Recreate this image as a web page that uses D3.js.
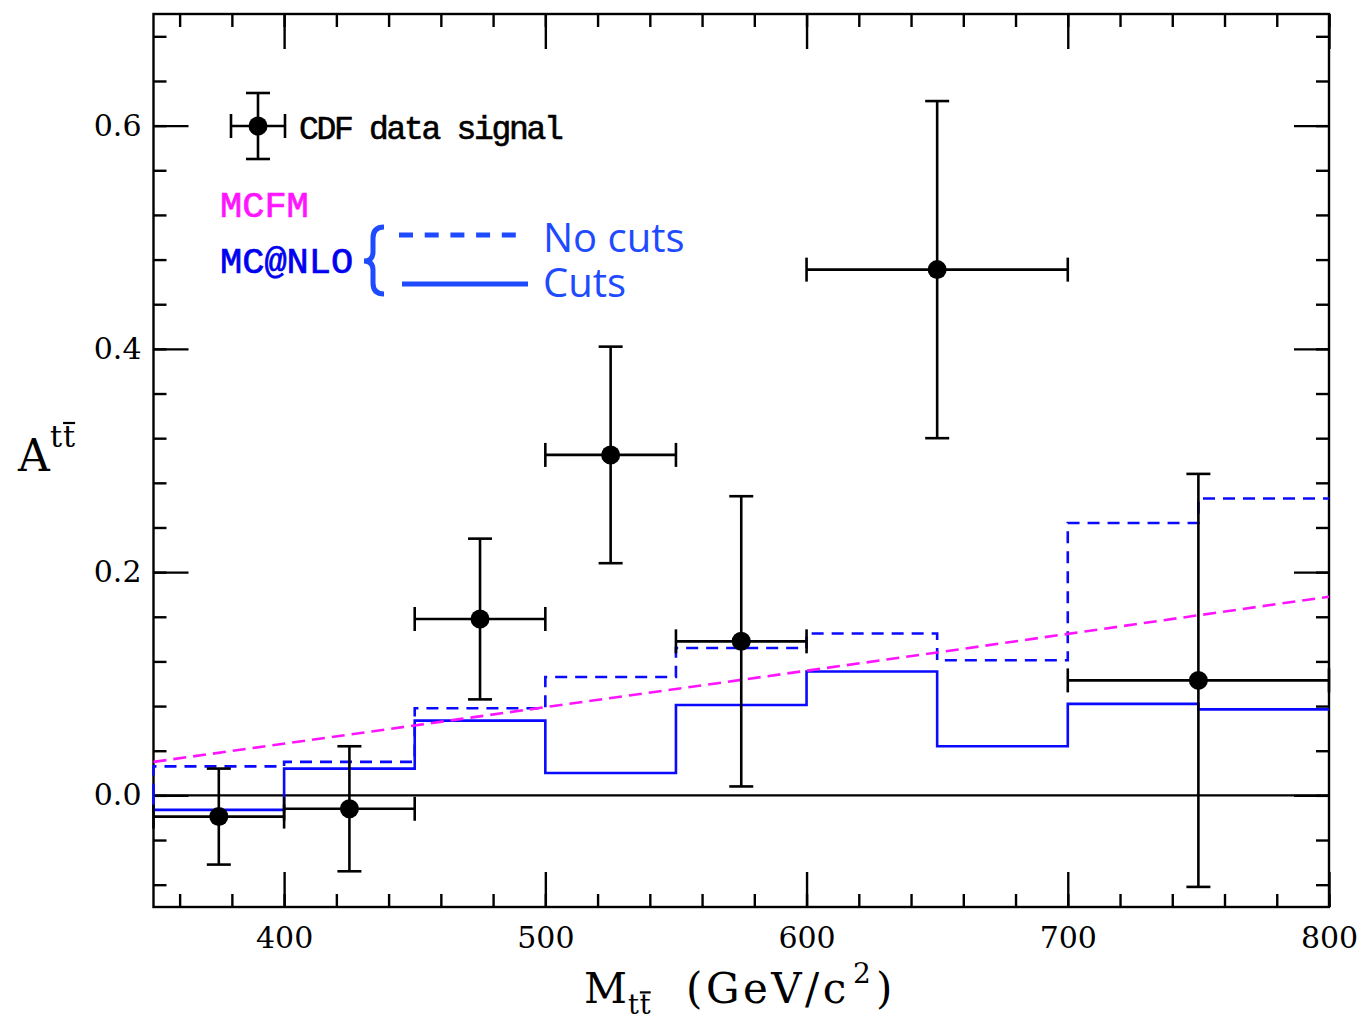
<!DOCTYPE html>
<html><head><meta charset="utf-8">
<script src="https://cdn.jsdelivr.net/npm/d3@7"></script>
<style>body{margin:0;background:#fff}</style>
</head><body>
<svg id="chart" width="1362" height="1016"></svg>
<script>
// MC@NLO histogram bin edges in M_tt (GeV/c^2) and the asymmetry per bin
const binEdges = [350, 400, 450, 500, 550, 600, 650, 700, 750, 800];
const mcnloNoCuts = [0.026, 0.030, 0.078, 0.106, 0.132, 0.145, 0.121, 0.244, 0.266];
const mcnloCuts = [-0.013, 0.024, 0.067, 0.020, 0.081, 0.111, 0.044, 0.082, 0.077];

// MCFM prediction
const mcfmMass = [350, 500, 650, 800];
const mcfmAsym = [0.030, 0.079, 0.128, 0.178];

// CDF measurement: bin limits, centres, values and errors
const cdfLow = [350, 400, 450, 500, 550, 600, 700];
const cdfHigh = [400, 450, 500, 550, 600, 700, 800];
const cdfMass = [375, 425, 475, 525, 575, 650, 750];
const cdfAsym = [-0.019, -0.012, 0.158, 0.305, 0.138, 0.471, 0.103];
const cdfErr = [0.043, 0.056, 0.072, 0.097, 0.130, 0.151, 0.185];

// axis ticks
const xMajorTicks = [400, 500, 600, 700, 800];
const xTickLabels = ["400", "500", "600", "700", "800"];
const yMajorTicks = [0.0, 0.2, 0.4, 0.6];
const yTickLabels = ["0.0", "0.2", "0.4", "0.6"];

const svg = d3.select("#chart");
const L = 153.5, R = 1329, T = 14, B = 907;
const x = d3.scaleLinear().domain([350, 800]).range([L, R]);
const y = d3.scaleLinear().domain([-0.1, 0.7]).range([B, T]);

const xMinorTicks = x.ticks(22);
const yMinorTicks = d3.range(-2, 18).map(i => +(i * 0.04).toFixed(2));

const BLUE = "#0a0aff", LEG_BLUE = "#1f4bff", MAG = "#ff14ff";
const serif = "'DejaVu Serif', serif";
const mono = "'Liberation Mono', monospace";

function styleAxis(g) {
  g.select(".domain").remove();
  g.selectAll(".tick line").attr("stroke", "#000").attr("stroke-width", 2.4);
  g.selectAll(".tick text").attr("fill", "#000")
    .style("font-family", serif).style("font-size", "30px");
}

// major / minor ticks on all four sides, pointing inward
svg.append("g").attr("transform", `translate(0,${B})`)
  .call(d3.axisBottom(x).tickValues(xMajorTicks).tickSize(-35).tickPadding(20)
    .tickFormat((d, i) => xTickLabels[i])).call(styleAxis);
svg.append("g").attr("transform", `translate(0,${B})`)
  .call(d3.axisBottom(x).tickValues(xMinorTicks).tickSize(-13).tickFormat("")).call(styleAxis);
svg.append("g").attr("transform", `translate(0,${T})`)
  .call(d3.axisTop(x).tickValues(xMajorTicks).tickSize(-35).tickFormat("")).call(styleAxis);
svg.append("g").attr("transform", `translate(0,${T})`)
  .call(d3.axisTop(x).tickValues(xMinorTicks).tickSize(-13).tickFormat("")).call(styleAxis);
svg.append("g").attr("transform", `translate(${L},0)`)
  .call(d3.axisLeft(y).tickValues(yMajorTicks).tickSize(-35).tickPadding(12)
    .tickFormat((d, i) => yTickLabels[i])).call(styleAxis);
svg.append("g").attr("transform", `translate(${L},0)`)
  .call(d3.axisLeft(y).tickValues(yMinorTicks).tickSize(-13).tickFormat("")).call(styleAxis);
svg.append("g").attr("transform", `translate(${R},0)`)
  .call(d3.axisRight(y).tickValues(yMajorTicks).tickSize(-35).tickFormat("")).call(styleAxis);
svg.append("g").attr("transform", `translate(${R},0)`)
  .call(d3.axisRight(y).tickValues(yMinorTicks).tickSize(-13).tickFormat("")).call(styleAxis);

// frame
svg.append("rect").attr("x", L).attr("y", T).attr("width", R - L).attr("height", B - T)
  .attr("fill", "none").attr("stroke", "#000").attr("stroke-width", 2.4);

// zero line
svg.append("line").attr("x1", L).attr("x2", R).attr("y1", y(0)).attr("y2", y(0))
  .attr("stroke", "#000").attr("stroke-width", 2.2);

// step histograms
function steps(vals) {
  const pts = [[binEdges[0], 0]];
  vals.forEach((v, i) => { pts.push([binEdges[i], v]); pts.push([binEdges[i + 1], v]); });
  return pts;
}
const line = d3.line().x(d => x(d[0])).y(d => y(d[1]));
svg.append("path").attr("d", line(steps(mcnloNoCuts))).attr("fill", "none")
  .attr("stroke", BLUE).attr("stroke-width", 2.6).attr("stroke-dasharray", "12,8");
svg.append("path").attr("d", line(steps(mcnloCuts))).attr("fill", "none")
  .attr("stroke", BLUE).attr("stroke-width", 2.6);

// MCFM
svg.append("path").attr("d", line(mcfmMass.map((m, i) => [m, mcfmAsym[i]]))).attr("fill", "none")
  .attr("stroke", MAG).attr("stroke-width", 2.6).attr("stroke-dasharray", "13,7");

// CDF points with error bars
function errPoint(g, cx, cy, yLo, yHi, xLo, xHi) {
  const ln = (x1, y1, x2, y2) => g.append("line")
    .attr("x1", x1).attr("y1", y1).attr("x2", x2).attr("y2", y2)
    .attr("stroke", "#000").attr("stroke-width", 2.6);
  ln(cx, yLo, cx, yHi);
  ln(cx - 12, yLo, cx + 12, yLo);
  ln(cx - 12, yHi, cx + 12, yHi);
  ln(xLo, cy, xHi, cy);
  ln(xLo, cy - 12, xLo, cy + 12);
  ln(xHi, cy - 12, xHi, cy + 12);
  g.append("circle").attr("cx", cx).attr("cy", cy).attr("r", 9.5).attr("fill", "#000");
}
const pts = svg.append("g");
cdfMass.forEach((m, i) => {
  errPoint(pts, x(m), y(cdfAsym[i]), y(cdfAsym[i] - cdfErr[i]), y(cdfAsym[i] + cdfErr[i]),
    x(cdfLow[i]), x(cdfHigh[i]));
});

// legend
const leg = svg.append("g");
errPoint(leg, 258, 126, 159, 93, 231, 285);
leg.append("text").attr("x", 299).attr("y", 139).text("CDF data signal")
  .style("font-family", mono).style("font-size", "33px").style("letter-spacing", "-2.3px")
  .attr("fill", "#000").attr("stroke", "#000").attr("stroke-width", 0.6);
leg.append("text").attr("x", 220).attr("y", 217).text("MCFM")
  .style("font-family", mono).style("font-size", "37px")
  .attr("fill", MAG).attr("stroke", MAG).attr("stroke-width", 0.7);
leg.append("text").attr("x", 220).attr("y", 273).text("MC@NLO")
  .style("font-family", mono).style("font-size", "37px")
  .attr("fill", "#0000f0").attr("stroke", "#0000f0").attr("stroke-width", 0.7);
leg.append("path")
  .attr("d", "M384,227 Q373,227 373,238 L373,252 Q373,261 364,261 Q373,261 373,270 L373,283 Q373,294 384,294")
  .attr("fill", "none").attr("stroke", LEG_BLUE).attr("stroke-width", 5);
leg.append("line").attr("x1", 399).attr("x2", 517).attr("y1", 235).attr("y2", 235)
  .attr("stroke", LEG_BLUE).attr("stroke-width", 5).attr("stroke-dasharray", "14,11.7");
leg.append("line").attr("x1", 402).attr("x2", 528).attr("y1", 284).attr("y2", 284)
  .attr("stroke", LEG_BLUE).attr("stroke-width", 5);
leg.append("text").attr("x", 543).attr("y", 252).text("No cuts")
  .style("font-family", "'Open Sans', sans-serif").style("font-size", "40px").attr("fill", LEG_BLUE);
leg.append("text").attr("x", 543).attr("y", 297).text("Cuts")
  .style("font-family", "'Open Sans', sans-serif").style("font-size", "40px").attr("fill", LEG_BLUE);

// axis titles
function ttbar(g, x0, base, size) {
  const t1 = g.append("text").attr("x", x0).attr("y", base).text("t")
    .style("font-family", serif).style("font-size", size + "px");
  const w = t1.node().getComputedTextLength();
  const t2 = g.append("text").attr("x", x0 + w + 1).attr("y", base).text("t")
    .style("font-family", serif).style("font-size", size + "px");
  const w2 = t2.node().getComputedTextLength();
  g.append("line").attr("x1", x0 + w + 1).attr("x2", x0 + w + 1 + w2)
    .attr("y1", base - size * 0.8).attr("y2", base - size * 0.8)
    .attr("stroke", "#000").attr("stroke-width", 2.2);
}
const ty = svg.append("g");
ty.append("text").attr("x", 18).attr("y", 471).text("A")
  .style("font-family", serif).style("font-size", "44px");
ttbar(ty, 50, 447, 30);

const tx = svg.append("g");
tx.append("text").attr("x", 584).attr("y", 1003).text("M")
  .style("font-family", serif).style("font-size", "42px");
ttbar(tx, 628, 1014, 27);
tx.append("text").attr("x", 686).attr("y", 1003).text("(GeV/c")
  .style("font-family", serif).style("font-size", "42px").style("letter-spacing", "3.5px");
tx.append("text").attr("x", 853).attr("y", 983).text("2")
  .style("font-family", serif).style("font-size", "28px");
tx.append("text").attr("x", 876).attr("y", 1003).text(")")
  .style("font-family", serif).style("font-size", "42px");
</script>
</body></html>
